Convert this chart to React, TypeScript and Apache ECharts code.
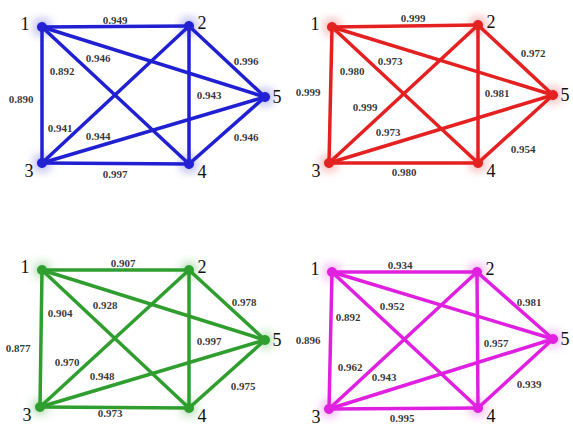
import React, { useEffect, useRef } from "react";
import * as echarts from "echarts";

// ---- data ----
const nodeNames = ["1", "2", "3", "4", "5"];
// edges as node index pairs: 1-2, 2-5, 1-4, 1-5, 1-3, 2-4, 2-3, 3-5, 4-5, 3-4
const edgePairs: [number, number][] = [
  [0, 1], [1, 4], [0, 3], [0, 4], [0, 2], [1, 3], [1, 2], [2, 4], [3, 4], [2, 3],
];
const blueWeights = [0.949, 0.996, 0.892, 0.946, 0.89, 0.943, 0.941, 0.944, 0.946, 0.997];
const redWeights = [0.999, 0.972, 0.98, 0.973, 0.999, 0.981, 0.999, 0.973, 0.954, 0.98];
const greenWeights = [0.907, 0.978, 0.904, 0.928, 0.877, 0.997, 0.97, 0.948, 0.975, 0.973];
const magentaWeights = [0.934, 0.981, 0.892, 0.952, 0.896, 0.957, 0.962, 0.943, 0.939, 0.995];

// ---- layout (pixel positions on the page) ----
const blueNodes = [[42, 27], [189, 26], [42, 163], [189, 164], [265, 97]];
const redNodes = [[332, 27], [478, 25], [329, 163], [478, 163], [553, 95]];
const greenNodes = [[42, 270], [189, 270], [40, 407], [189, 408], [265, 340]];
const magentaNodes = [[332, 272], [477, 272], [329, 409], [478, 408], [553, 339]];

const blueLabelPos = [[115, 20], [246, 61], [62, 71], [98, 58], [21, 99], [209, 95], [60, 128], [98, 136], [246, 137], [115, 174]];
const redLabelPos = [[413, 18], [533, 53], [352, 71], [390, 61], [308, 92], [497, 93], [365, 107], [388, 132], [523, 149], [404, 172]];
const greenLabelPos = [[123, 263], [244, 302], [60, 313], [105, 305], [18, 348], [209, 341], [67, 362], [102, 376], [243, 386], [110, 413]];
const magentaLabelPos = [[400, 265], [529, 302], [348, 317], [392, 306], [308, 340], [496, 343], [350, 367], [384, 377], [529, 384], [402, 418]];

const nodeLabelOffsets = [[-17, -3], [13, -3], [-13, 8], [13, 8], [12, 0]];

const panels = [
  { color: "#2020d2", nodes: blueNodes, weights: blueWeights, labelPos: blueLabelPos },
  { color: "#e42020", nodes: redNodes, weights: redWeights, labelPos: redLabelPos },
  { color: "#2f9e2f", nodes: greenNodes, weights: greenWeights, labelPos: greenLabelPos },
  { color: "#e020e0", nodes: magentaNodes, weights: magentaWeights, labelPos: magentaLabelPos },
];

const W = 573;
const H = 427;

export default function App() {
  const ref = useRef<HTMLDivElement>(null);
  useEffect(() => {
    document.body.style.margin = "0";
    if (!ref.current) return;
    const chart = echarts.init(ref.current, undefined, { renderer: "svg" });
    const series: any[] = [];
    panels.forEach((p) => {
      series.push({
        type: "graph",
        coordinateSystem: "cartesian2d",
        layout: "none",
        symbol: "circle",
        symbolSize: 10,
        silent: true,
        itemStyle: { color: p.color, shadowBlur: 12, shadowColor: p.color },
        lineStyle: { color: p.color, width: 3.5, opacity: 1, curveness: 0 },
        label: {
          show: true,
          position: "inside",
          formatter: "{b}",
          fontFamily: "Liberation Serif",
          fontSize: 18,
          color: "#111",
        },
        data: nodeNames.map((n, i) => ({
          name: n,
          value: p.nodes[i],
          label: { offset: nodeLabelOffsets[i] },
        })),
        links: edgePairs.map(([s, t]) => ({ source: s, target: t })),
        z: 2,
      });
      series.push({
        type: "scatter",
        silent: true,
        symbolSize: 1,
        itemStyle: { color: "transparent" },
        label: {
          show: true,
          position: "inside",
          formatter: (d: any) => d.value[2].toFixed(3),
          fontFamily: "Liberation Serif",
          fontWeight: "bold",
          fontSize: 11,
          color: "#000",
        },
        data: p.weights.map((w, i) => [p.labelPos[i][0], p.labelPos[i][1], w]),
        z: 3,
      });
    });
    chart.setOption({
      animation: false,
      backgroundColor: "#ffffff",
      grid: { left: 0, right: 0, top: 0, bottom: 0 },
      xAxis: { type: "value", min: 0, max: W, show: false },
      yAxis: { type: "value", min: 0, max: H, inverse: true, show: false },
      series,
    });
    return () => chart.dispose();
  }, []);
  return <div ref={ref} style={{ width: W, height: H }} />;
}
